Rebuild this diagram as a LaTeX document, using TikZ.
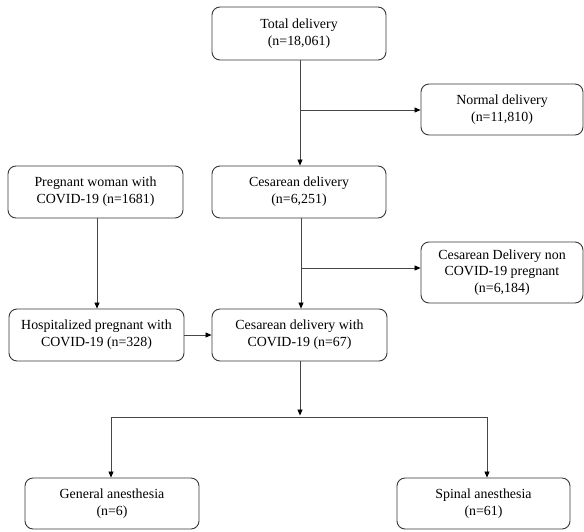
\documentclass[tikz,border=0pt]{standalone}
\usepackage{fontspec}
\setmainfont{Liberation Serif}
\usepackage{tikz}
\usetikzlibrary{arrows.meta,positioning,calc}
\definecolor{edge}{RGB}{55,55,55}
\definecolor{wire}{RGB}{70,70,70}

\begin{document}
\begin{tikzpicture}[x=1pt,y=-1pt,
  box/.style={draw=edge, line width=0.9pt, rounded corners=8pt, align=center,
    inner sep=0pt, font=\fontsize{13.9}{16.8}\selectfont},
  arr/.style={draw=wire, line width=0.8pt, -{Triangle[length=6pt,width=5pt,color=black]}},
  wire/.style={draw=wire, line width=0.8pt}]
  \useasboundingbox (0,0) rectangle (584,531);
  % boxes
  \node[box, minimum width=174, minimum height=53] (total) at (299,33.5) {Total delivery\\(n=18,061)};
  \node[box, minimum width=162, minimum height=51] (normal) at (502,109.5) {Normal delivery\\(n=11,810)};
  \node[box, minimum width=175, minimum height=52] (pregnant) at (95.5,192) {Pregnant woman with\\COVID-19 (n=1681)};
  \node[box, minimum width=174, minimum height=52] (cesarean) at (299,192) {Cesarean delivery\\(n=6,251)};
  \node[box, minimum width=162, minimum height=61] (cesnon) at (502,272.5) {Cesarean Delivery non\\COVID-19 pregnant\\(n=6,184)};
  \node[box, minimum width=175, minimum height=52] (hosp) at (96.5,335) {Hospitalized pregnant with\\COVID-19 (n=328)};
  \node[box, minimum width=175, minimum height=52] (cescovid) at (299.5,335) {Cesarean delivery with\\COVID-19 (n=67)};
  \node[box, minimum width=174, minimum height=51] (general) at (112,503.5) {General anesthesia\\(n=6)};
  \node[box, minimum width=173, minimum height=51] (spinal) at (483.5,503.5) {Spinal anesthesia\\(n=61)};
  % split points
  \coordinate (split1) at (300,110);
  \coordinate (split2) at (301,268);
  \coordinate (fork) at (300,417);
  \coordinate (forkl) at (111,417);
  \coordinate (forkr) at (487,417);
  % connectors
  \draw[arr] (total.south -| split1) -- (cesarean.north -| split1);
  \draw[arr] (split1) -- (split1 -| normal.west);
  \draw[arr] (cesarean.south -| split2) -- (cescovid.north -| split2);
  \draw[arr] (split2) -- (split2 -| cesnon.west);
  \draw[arr] (pregnant.south -| 97,0) -- (hosp.north -| 97,0);
  \draw[arr] (hosp.east) -- (cescovid.west);
  \draw[arr] (cescovid.south -| fork) -- ($(fork)+(0,-1.5)$);
  \draw[wire] (forkl) -- (forkr);
  \draw[arr] (forkl) -- (forkl |- general.north);
  \draw[arr] (forkr) -- (forkr |- spinal.north);
\end{tikzpicture}
\end{document}
